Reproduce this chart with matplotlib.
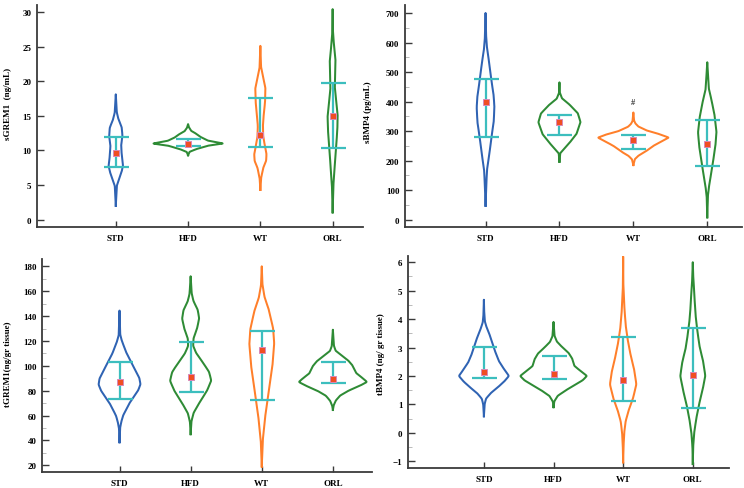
import numpy as np
import matplotlib
matplotlib.use("Agg")
import matplotlib.pyplot as plt
from matplotlib.ticker import MultipleLocator

plt.rcParams['font.family'] = ['Liberation Serif', 'DejaVu Serif']
plt.rcParams['font.weight'] = 'bold'

groups = ["STD", "HFD", "WT", "ORL"]
colors = ["#2F63B3", "#2E8B35", "#FF7F2A", "#2E8B35"]
err_color = "#3CBEBE"

# ---------------- Panel A: sGREM1 ----------------
A_label = "sGREM1  (ng/mL)"
A_mean = [9.7, 11.0, 12.3, 14.95]
A_lo = [7.65, 10.7, 10.55, 10.4]
A_hi = [12.0, 11.7, 17.55, 19.7]
A_STD_y = [2.0, 4.9, 5.6, 6.8, 7.8, 9.2, 10.7, 12.1, 13.3, 14.5, 15.5, 18.1]
A_STD_w = [0, 0.014, 0.037, 0.078, 0.10, 0.083, 0.074, 0.092, 0.083, 0.037, 0.014, 0]
A_HFD_y = [9.3, 9.8, 10.2, 10.7, 11.0, 11.4, 11.9, 12.4, 12.8, 13.3, 13.8]
A_HFD_w = [0, 0.02, 0.115, 0.28, 0.49, 0.28, 0.18, 0.115, 0.046, 0.014, 0]
A_WT_y = [4.3, 6.0, 7.5, 8.5, 9.5, 10.5, 12.0, 13.5, 15.0, 17.0, 19.0, 20.5, 22.0, 25.1]
A_WT_w = [0, 0.01, 0.04, 0.08, 0.085, 0.065, 0.04, 0.035, 0.045, 0.065, 0.07, 0.04, 0.01, 0]
A_ORL_y = [1.06, 5, 7, 8, 10, 13, 15, 17, 19, 21, 23, 25, 27, 30.4]
A_ORL_w = [0, 0.01, 0.025, 0.03, 0.045, 0.065, 0.07, 0.05, 0.03, 0.035, 0.04, 0.02, 0.005, 0]

# ---------------- Panel B: sBMP4 ----------------
B_label = "sBMP4 (pg/mL)"
B_mean = [399, 332, 270, 257]
B_lo = [279, 288, 239, 183]
B_hi = [476, 356, 288, 336]
B_STD_y = [47, 120, 170, 220, 280, 330, 380, 420, 470, 530, 580, 620, 700]
B_STD_w = [0, 0.01, 0.02, 0.05, 0.08, 0.11, 0.12, 0.11, 0.08, 0.05, 0.02, 0.008, 0]
B_HFD_y = [196, 225, 260, 290, 330, 360, 390, 410, 430, 465]
B_HFD_w = [0, 0.01, 0.135, 0.23, 0.285, 0.25, 0.135, 0.036, 0.005, 0]
B_WT_y = [185, 205, 217, 230, 250, 265, 278, 290, 300, 315, 325, 335, 363]
B_WT_w = [0, 0.02, 0.07, 0.16, 0.27, 0.38, 0.48, 0.35, 0.2, 0.07, 0.03, 0.01, 0]
B_ORL_y = [8, 80, 115, 183, 250, 296, 352, 408, 442, 533]
B_ORL_w = [0, 0.008, 0.025, 0.07, 0.11, 0.125, 0.1, 0.055, 0.022, 0]
B_mark = "#"

# ---------------- Panel C: tGREM1 ----------------
C_label = "tGREM1(ng/gr tissue)"
C_mean = [87, 90.8, 113, 89.7]
C_lo = [73.1, 78.7, 72.3, 86.0]
C_hi = [102.8, 118.9, 128.3, 102.8]
C_STD_y = [38.5, 50, 55, 60, 70, 80, 85, 90, 100, 110, 120, 125, 144.4]
C_STD_w = [0, 0.008, 0.025, 0.05, 0.14, 0.26, 0.295, 0.28, 0.19, 0.10, 0.033, 0.01, 0]
C_HFD_y = [45, 55, 62, 70, 80, 88, 95, 102, 110, 116, 122, 130, 138, 145, 152, 158, 172]
C_HFD_w = [0, 0.01, 0.04, 0.12, 0.23, 0.29, 0.26, 0.18, 0.08, 0.035, 0.04, 0.09, 0.12, 0.10, 0.04, 0.015, 0]
C_WT_y = [19, 40, 60, 80, 100, 118, 130, 145, 155, 165, 180]
C_WT_w = [0, 0.014, 0.05, 0.10, 0.15, 0.175, 0.16, 0.10, 0.04, 0.01, 0]
C_ORL_y = [64.5, 68, 72, 76, 80, 84, 87, 90, 94, 100, 104, 108, 112, 116, 129]
C_ORL_w = [0, 0.01, 0.04, 0.1, 0.22, 0.38, 0.48, 0.42, 0.33, 0.28, 0.22, 0.13, 0.04, 0.015, 0]

# ---------------- Panel D: tBMP4 ----------------
D_label = "tBMP4 (ng/ gr tissue)"
D_mean = [2.15, 2.08, 1.86, 2.05]
D_lo = [1.93, 1.9, 1.11, 0.88]
D_hi = [3.03, 2.7, 3.37, 3.70]
D_STD_y = [0.58, 1.0, 1.2, 1.4, 1.6, 1.8, 2.0, 2.2, 2.5, 2.8, 3.1, 3.4, 3.7, 3.9, 4.2, 4.68]
D_STD_w = [0, 0.01, 0.03, 0.1, 0.2, 0.29, 0.36, 0.30, 0.22, 0.17, 0.13, 0.09, 0.04, 0.015, 0.005, 0]
D_HFD_y = [0.9, 1.1, 1.3, 1.5, 1.7, 1.85, 2.0, 2.15, 2.35, 2.6, 2.8, 3.0, 3.2, 3.4, 3.9]
D_HFD_w = [0, 0.01, 0.06, 0.18, 0.32, 0.42, 0.48, 0.40, 0.30, 0.27, 0.22, 0.13, 0.05, 0.015, 0]
D_WT_y = [-1.04, -0.5, 0.0, 0.4, 0.8, 1.2, 1.7, 2.2, 2.7, 3.2, 3.7, 4.3, 4.7, 5.2, 6.2]
D_WT_w = [0, 0.005, 0.015, 0.035, 0.08, 0.14, 0.19, 0.16, 0.11, 0.07, 0.04, 0.02, 0.012, 0.003, 0]
D_ORL_y = [-1.1, -0.5, 0.0, 0.5, 1.0, 1.5, 2.0, 2.5, 3.0, 3.5, 4.0, 4.5, 5.0, 5.4, 6.0]
D_ORL_w = [0, 0.005, 0.02, 0.05, 0.09, 0.14, 0.18, 0.15, 0.10, 0.07, 0.045, 0.03, 0.02, 0.008, 0]

W, H = 744, 489
fig = plt.figure(figsize=(W / 100, H / 100), dpi=100)
fig.patch.set_facecolor("white")


def make_ax(l, r, t, b):
    return fig.add_axes([l / W, (H - b) / H, (r - l) / W, (b - t) / H])


def smooth_outline(y, w):
    y = np.asarray(y, float)
    w = np.asarray(w, float)
    yy = np.linspace(y[0], y[-1], 600)
    ww = np.interp(yy, y, w)
    k = np.exp(-0.5 * (np.arange(-9, 10) / 3.5) ** 2)
    k /= k.sum()
    ww = np.convolve(np.pad(ww, 9, mode="edge"), k, mode="valid")
    ww[0] = 0
    ww[-1] = 0
    return yy, ww


def panel(ax, profiles, mean, lo, hi, ylim, yticks, minor, label, lab_xy):
    pos = np.arange(1, 5)
    for p, (vy, vw), c in zip(pos, profiles, colors):
        yy, ww = smooth_outline(vy, vw)
        xs = np.concatenate([p + ww, (p - ww)[::-1]])
        ys = np.concatenate([yy, yy[::-1]])
        ax.plot(xs, ys, color=c, lw=1.45, solid_joinstyle="round", zorder=2)
    mean = np.asarray(mean)
    yerr = [mean - np.asarray(lo), np.asarray(hi) - mean]
    ax.errorbar(pos, mean, yerr=yerr, fmt="none", ecolor=err_color, elinewidth=1.6,
                capsize=9, capthick=1.6, zorder=3)
    ax.plot(pos, mean, linestyle="none", marker="s", markersize=5,
            markerfacecolor="#F04E23", markeredgecolor="#D889B8", markeredgewidth=0.7, zorder=4)
    ax.set_ylim(*ylim)
    ax.set_yticks(yticks)
    if minor:
        ax.yaxis.set_minor_locator(MultipleLocator(minor))
    ax.set_xticks(pos)
    ax.set_xticklabels(groups)
    for s in ["top", "right"]:
        ax.spines[s].set_visible(False)
    for s in ["left", "bottom"]:
        ax.spines[s].set_linewidth(1.3)
        ax.spines[s].set_color("#3a3a3a")
    ax.tick_params(axis="y", which="major", direction="in", length=5, width=1.0,
                   color="#3a3a3a", labelsize=6.5, pad=4)
    ax.tick_params(axis="y", which="minor", direction="in", length=3, width=0.6, color="#b0b0b0")
    ax.tick_params(axis="x", which="major", direction="in", length=4, width=1.0,
                   color="#3a3a3a", labelsize=6.5, pad=5)
    for t in ax.get_xticklabels() + ax.get_yticklabels():
        t.set_fontweight("bold")
    ax.set_ylabel(label, fontsize=6.5, fontweight="bold")
    ax.yaxis.set_label_coords(*lab_xy)
    ax.set_facecolor("none")


axA = make_ax(37, 363, 6, 228)
axA.set_xlim(-0.09, 4.42)
panel(axA, [(A_STD_y, A_STD_w), (A_HFD_y, A_HFD_w), (A_WT_y, A_WT_w), (A_ORL_y, A_ORL_w)],
      A_mean, A_lo, A_hi, (-1.05, 31.0), np.arange(0, 31, 5), None, A_label, (-0.077, 0.56))

axB = make_ax(405, 742, 6, 228)
axB.set_xlim(-0.09, 4.47)
panel(axB, [(B_STD_y, B_STD_w), (B_HFD_y, B_HFD_w), (B_WT_y, B_WT_w), (B_ORL_y, B_ORL_w)],
      B_mean, B_lo, B_hi, (-24.7, 727), np.arange(0, 701, 100), 50, B_label, (-0.098, 0.52))
axB.text(3, 400, B_mark, ha="center", va="center", fontsize=6, fontweight="bold", color="#333333")

axC = make_ax(42, 372, 260, 473)
axC.set_xlim(-0.09, 4.55)
panel(axC, [(C_STD_y, C_STD_w), (C_HFD_y, C_HFD_w), (C_WT_y, C_WT_w), (C_ORL_y, C_ORL_w)],
      C_mean, C_lo, C_hi, (14.6, 185.9), np.arange(20, 181, 20), 10, C_label, (-0.09, 0.51))

axD = make_ax(408, 729, 257, 469)
axD.set_xlim(-0.09, 4.52)
panel(axD, [(D_STD_y, D_STD_w), (D_HFD_y, D_HFD_w), (D_WT_y, D_WT_w), (D_ORL_y, D_ORL_w)],
      D_mean, D_lo, D_hi, (-1.24, 6.22), np.arange(-1, 7, 1), 0.5, D_label, (-0.072, 0.54))

fig.savefig("out.png", dpi=100, facecolor="white")
